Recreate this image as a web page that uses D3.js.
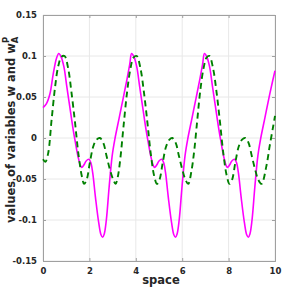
<!DOCTYPE html>
<html>
<head>
<meta charset="utf-8">
<script src="https://cdn.jsdelivr.net/npm/d3@7"></script>
<style>
  body { margin: 0; background: #fff; }
  text { font-family: "DejaVu Sans", sans-serif; font-weight: bold; fill: #262626; }
</style>
</head>
<body>
<script>
// w (solid magenta)
var wX = [0, 0.15, 0.30, 0.44, 0.58, 0.68, 0.78, 0.90, 1.03, 1.16, 1.28, 1.40, 1.52, 1.62, 1.67, 1.76, 1.86, 1.98, 2.06, 2.14, 2.26, 2.40, 2.50, 2.57, 2.64, 2.73, 2.85, 2.98, 3.10, 3.28, 3.46, 3.63, 3.74, 3.82,
          3.92, 4.04, 4.17, 4.30, 4.42, 4.54, 4.66, 4.76, 4.81, 4.90, 5.00, 5.12, 5.20, 5.28, 5.40, 5.54, 5.64, 5.71, 5.78, 5.87, 5.99, 6.12, 6.24, 6.42, 6.60, 6.77, 6.88, 6.96,
          7.06, 7.18, 7.31, 7.44, 7.56, 7.68, 7.80, 7.90, 7.95, 8.04, 8.14, 8.26, 8.34, 8.42, 8.54, 8.68, 8.78, 8.85, 8.92, 9.01, 9.13, 9.26, 9.38, 9.56, 9.74, 9.91, 10.0];
var wY = [0.037, 0.042, 0.054, 0.078, 0.097, 0.103, 0.099, 0.087, 0.062, 0.037, 0.014, -0.006, -0.024, -0.034, -0.036, -0.033, -0.028, -0.026, -0.030, -0.042, -0.072, -0.103, -0.118, -0.121, -0.117, -0.100, -0.060, -0.022, -0.001, 0.024, 0.049, 0.073, 0.090, 0.103,
          0.099, 0.087, 0.062, 0.037, 0.014, -0.006, -0.024, -0.034, -0.036, -0.033, -0.028, -0.026, -0.030, -0.042, -0.072, -0.103, -0.118, -0.121, -0.117, -0.100, -0.060, -0.022, -0.001, 0.024, 0.049, 0.073, 0.090, 0.103,
          0.099, 0.087, 0.062, 0.037, 0.014, -0.006, -0.024, -0.034, -0.036, -0.033, -0.028, -0.026, -0.030, -0.042, -0.072, -0.103, -0.118, -0.121, -0.117, -0.100, -0.060, -0.022, -0.001, 0.024, 0.049, 0.071, 0.082];

// w_A^P (dashed green)
var wapX = [0, 0.10, 0.22, 0.37, 0.52, 0.66, 0.80, 0.93, 1.09, 1.23, 1.38, 1.52, 1.67, 1.77, 1.88, 2.02, 2.17, 2.31, 2.45, 2.60, 2.74, 2.88, 3.03, 3.13,
            3.22, 3.33, 3.47, 3.62, 3.76, 3.90, 4.04, 4.20, 4.35, 4.50, 4.64, 4.79, 4.91, 5.02, 5.16, 5.31, 5.45, 5.57, 5.72, 5.86, 6.00, 6.14, 6.26,
            6.40, 6.52, 6.65, 6.78, 6.92, 7.05, 7.17, 7.33, 7.48, 7.63, 7.77, 7.92, 8.04, 8.15, 8.29, 8.44, 8.58, 8.72, 8.86, 9.00, 9.14, 9.28, 9.42,
            9.63, 9.77, 9.92, 10.0];
var wapY = [-0.026, -0.029, -0.019, 0.022, 0.062, 0.088, 0.099, 0.100, 0.084, 0.055, 0.019, -0.018, -0.046, -0.056, -0.051, -0.030, -0.010, -0.002, 0.000, -0.006, -0.022, -0.038, -0.051, -0.056,
            -0.048, -0.026, 0.014, 0.055, 0.083, 0.098, 0.100, 0.085, 0.056, 0.019, -0.018, -0.046, -0.056, -0.051, -0.030, -0.010, -0.002, 0.000, -0.006, -0.022, -0.038, -0.051, -0.056,
            -0.040, -0.015, 0.022, 0.058, 0.085, 0.098, 0.100, 0.085, 0.056, 0.019, -0.018, -0.046, -0.056, -0.051, -0.030, -0.010, -0.002, 0.000, -0.006, -0.022, -0.038, -0.051, -0.056,
            -0.034, -0.010, 0.014, 0.027];

var xTicks = [0, 2, 4, 6, 8, 10],
    yTicks = [-0.15, -0.1, -0.05, 0, 0.05, 0.1, 0.15];

var width = 305,
    height = 295,
    margin = {left: 43, top: 15, right: 30, bottom: 34},
    w = width - margin.left - margin.right,
    h = height - margin.top - margin.bottom;

var svg = d3.select("body").append("svg")
    .attr("width", width)
    .attr("height", height);

var g = svg.append("g")
    .attr("transform", "translate(" + margin.left + "," + margin.top + ")");

var x = d3.scaleLinear().domain([0, 10]).range([0, w]);
var y = d3.scaleLinear().domain([-0.15, 0.15]).range([h, 0]);

// grid
g.selectAll(".gx").data(xTicks).enter().append("line")
    .attr("x1", d => x(d)).attr("x2", d => x(d))
    .attr("y1", 0).attr("y2", h)
    .attr("stroke", "#e8e8e8");
g.selectAll(".gy").data(yTicks).enter().append("line")
    .attr("y1", d => y(d)).attr("y2", d => y(d))
    .attr("x1", 0).attr("x2", w)
    .attr("stroke", "#e8e8e8");

var fmt = function(d){ return d === 0 ? "0" : String(d); };

var xAxis = g.append("g")
    .attr("transform", "translate(0," + h + ")")
    .call(d3.axisBottom(x).tickValues(xTicks).tickSize(-3).tickPadding(7).tickFormat(fmt));
var yAxis = g.append("g")
    .call(d3.axisLeft(y).tickValues(yTicks).tickSize(-3).tickPadding(6).tickFormat(fmt));
g.append("g")
    .call(d3.axisTop(x).tickValues(xTicks).tickSize(-3).tickFormat(""));
g.append("g")
    .attr("transform", "translate(" + w + ",0)")
    .call(d3.axisRight(y).tickValues(yTicks).tickSize(-3).tickFormat(""));

g.selectAll(".domain, .tick line").attr("stroke", "#a0a0a0");
g.selectAll(".tick text")
    .attr("font-size", 8.5)
    .attr("font-family", "DejaVu Sans")
    .attr("font-weight", "bold")
    .attr("fill", "#262626");

var line = d3.line()
    .x(d => x(d[0]))
    .y(d => y(d[1]))
    .curve(d3.curveCatmullRom.alpha(0.5));

g.append("path")
    .datum(d3.zip(wX, wY))
    .attr("fill", "none")
    .attr("stroke", "#ff00ff")
    .attr("stroke-width", 1.6)
    .attr("d", line);

g.append("path")
    .datum(d3.zip(wapX, wapY))
    .attr("fill", "none")
    .attr("stroke", "#008000")
    .attr("stroke-width", 1.9)
    .attr("stroke-dasharray", "6,4")
    .attr("d", line);

// labels
svg.append("text")
    .attr("x", margin.left + w / 2 + 2)
    .attr("y", 284)
    .attr("text-anchor", "middle")
    .attr("font-size", 11.5)
    .text("space");

var yl = svg.append("text")
    .attr("transform", "translate(15,223) rotate(-90)")
    .attr("font-size", 11.5);
yl.append("tspan").text("values of variables w and w");
yl.append("tspan").attr("font-size", 8.5).attr("dy", 2.5).text("A");
yl.append("tspan").attr("font-size", 8.5).attr("dx", -6.5).attr("dy", -8.5).text("P");
</script>
</body>
</html>
